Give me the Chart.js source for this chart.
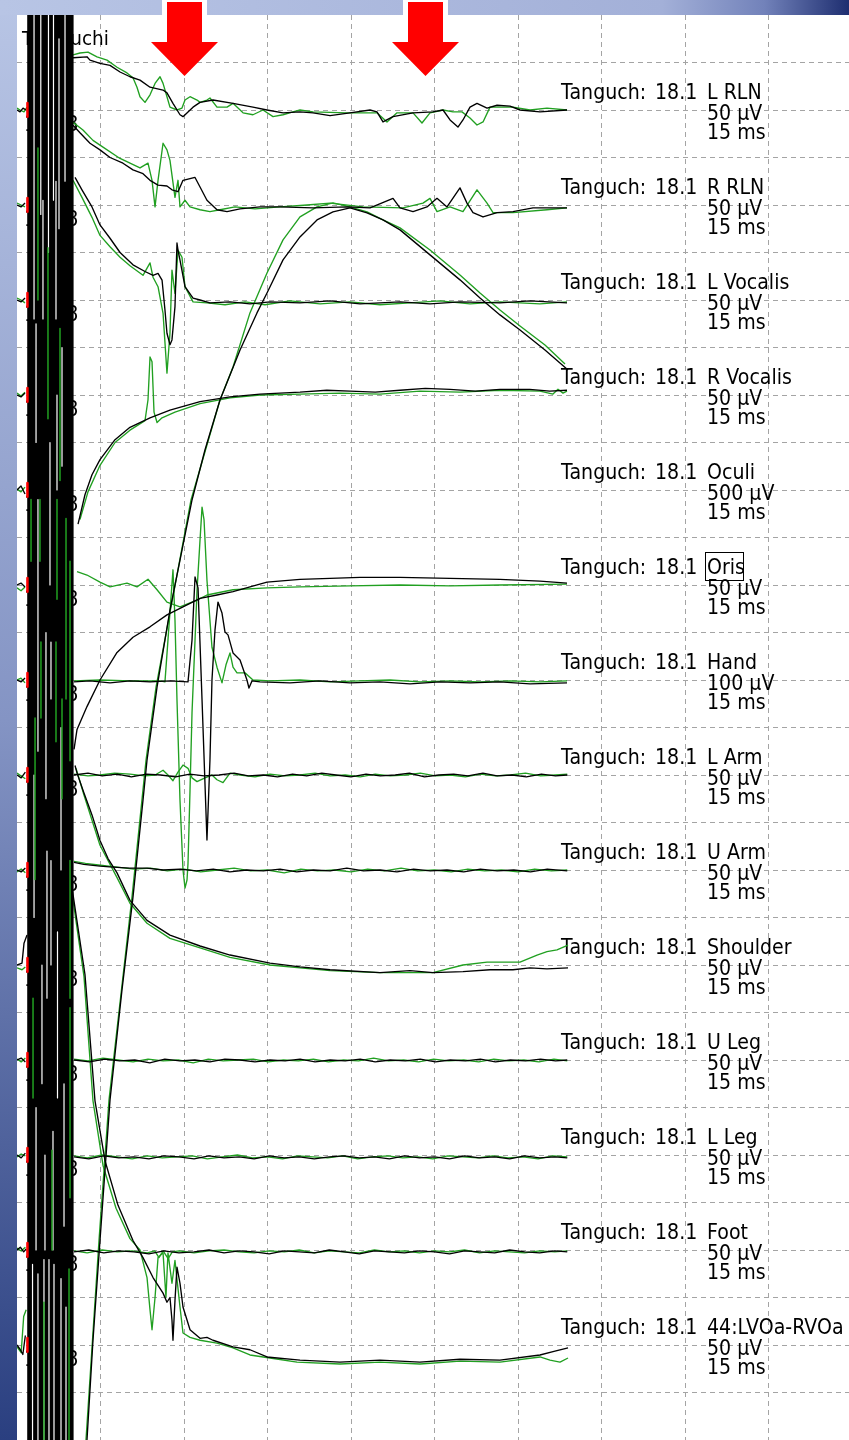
<!DOCTYPE html>
<html><head><meta charset="utf-8">
<script src="https://cdn.jsdelivr.net/npm/chart.js@4.4.1/dist/chart.umd.min.js"></script>
<style>html,body{margin:0;padding:0;background:#fff;overflow:hidden}canvas{display:block}</style>
</head><body>
<canvas id="c" width="849" height="1440"></canvas>
<script>
// ---------------- DATA ----------------
const channelNames = ['L RLN','R RLN','L Vocalis','R Vocalis','Oculi','Oris','Hand','L Arm','U Arm','Shoulder','U Leg','L Leg','Foot','44:LVOa-RVOa'];
const channelGains = [50,50,50,50,500,50,100,50,50,50,50,50,50,50]; // µV per division
const headerParts = ['Tanguch:', '18.1'];
const sweepLabel = '15 ms';
const patientLabel = 'Taniguchi';
const gainCode = '11.88';
const stimMarkerMs = 1.25;

// traces: [time ms, µV]  (null = gap across stimulus artifact)
const lRlnBlack = [[0,0],[0.36,-2],[0.72,2],[1.08,0],null,[6.71,55],[8.38,56],[8.74,52.5],[9.94,49],[11.14,47],[12.34,40],[13.53,35],[14.73,31.5],[15.93,24],[17.49,21],[17.96,18],[18.68,7],[19.52,-5],[19.88,-7],[20.48,-2],[21.08,3],[21.92,8],[23.47,10.5],[25.87,7],[28.26,3],[29.94,0],[31.86,-3],[33.89,-2],[35.45,-3],[37.49,-6],[39.88,-3],[42.28,0],[43.11,-2],[43.83,-12.6],[45.03,-7],[47.43,-3],[49.82,-2],[51.02,0],[51.86,-10.5],[52.81,-18],[53.41,-10.5],[54.25,3],[55.09,7],[56.29,2],[57.49,5],[59.04,4],[60.24,0],[62.63,-2],[65.87,0]];
const lRlnGreen = [[0,2],[0.36,0],[0.84,-2],[1.2,3],null,[6.71,58],[7.54,60],[8.5,61],[9.58,56],[10.78,52.5],[11.98,45],[13.17,39],[13.89,34],[14.37,24],[14.73,14],[15.33,8],[15.93,16],[16.53,28],[17.13,35],[17.49,28],[17.96,14],[18.32,3],[19.16,0],[19.76,2],[20.12,10.5],[20.72,14],[21.56,10.5],[21.92,8],[22.75,10.5],[23.11,12.6],[23.95,3],[25.15,3],[25.87,7],[27.07,-3],[28.26,-5],[29.46,0],[30.66,-7],[31.86,-5],[33.05,-2],[33.89,0],[35.45,-2],[39.52,-3],[43.11,-3],[44.31,-12.6],[45.51,-3],[47.43,-3],[48.5,-13.7],[49.46,-3],[51.02,0],[52.22,-2],[53.29,-2],[54.25,-8.4],[55.09,-15.8],[55.81,-12.6],[56.65,3],[59.4,3],[61.44,0],[63.47,2],[65.87,0]];

const rRlnBlack = [[0,0],[0.48,-2],[0.96,2],null,[6.71,84],[7.54,76],[8.74,65],[9.94,58],[11.14,50],[12.69,44],[13.89,37],[15.09,33],[15.93,26],[16.89,21],[17.96,20],[18.56,16],[19.28,14],[19.88,26],[21.32,29],[21.92,19],[22.75,5],[23.95,-5],[25.15,-7],[26.71,-4],[29.1,-2],[31.5,-2],[35.45,-3],[39.52,-2],[42.28,-3],[45.03,7],[45.87,-3],[47.43,-7],[49.1,-2],[50.3,7],[51.5,-2],[53.05,18],[53.89,2],[54.61,-8],[55.81,-12.6],[57.49,-8],[59.4,-7],[61.8,-3],[63.47,-3],[65.87,-3]];
const rRlnGreen = [[0,2],[0.48,0],[0.96,-2],null,[6.71,87],[7.9,79],[9.1,68],[9.94,63],[12.34,49],[14.73,39],[15.69,44],[16.17,26],[16.53,-2],[16.89,26],[17.49,65],[17.96,58],[18.32,47],[18.92,8],[19.28,26],[19.52,-2],[20.12,5],[20.72,-2],[21.92,-5],[23.11,-7],[24.31,-5],[26.11,-2],[28.5,-4],[31.5,-2],[34.73,0],[37.49,2],[41.44,-2],[46.23,-3],[48.62,2],[49.46,7],[50.3,-7],[51.86,-2],[53.41,-7],[55.09,16],[56.29,2],[57.01,-8],[59.4,-8],[63.47,-5],[65.87,-3]];

const lVocalisBlack = [[0,0],[0.48,-2],[0.96,2],null,[6.95,129],[7.78,116],[8.98,98],[9.94,79],[11.14,65],[12.34,50],[13.89,37],[15.33,30],[16.29,26],[16.89,28],[17.37,21],[17.72,-10.5],[17.96,-35],[18.32,-47],[18.56,-42],[18.92,-7],[19.16,60],[19.28,52.5],[19.52,42],[20.12,14],[21.08,2],[21.92,0],[23.11,-3],[25.51,-2],[27.9,-4],[30.3,-2],[33.89,-3],[37.49,-1],[41.08,-4],[45.87,-2],[49.46,-4],[53.05,-2],[57.84,-3],[61.44,-1],[65.87,-3]];
const lVocalisGreen = [[0,2],[0.48,0],[0.96,-3],null,[6.71,126],[7.78,108],[8.98,87],[9.94,68],[11.14,56],[12.34,45],[13.53,36],[15.09,26],[15.93,39],[16.29,24],[16.89,14],[17.49,-14],[17.96,-77],[18.32,-35],[18.56,31.5],[18.92,7],[19.28,52.5],[19.76,45],[20.12,14],[21.08,-2],[22.75,-3],[24.91,-5],[27.31,-2],[29.7,-5],[32.69,-1],[36.29,-4],[39.88,-2],[43.47,-5],[47.07,-3],[50.66,-1],[54.25,-4],[57.84,-2],[62.63,-4],[65.87,-2]];

const rVocalisBlack = [[0,0],[0.48,-2],[0.96,2],null,[7.31,-136],[8.14,-105],[8.98,-84],[9.94,-68],[11.74,-47],[13.53,-34],[15.93,-24],[18.32,-16],[21.92,-7],[25.51,-2],[29.1,1],[33.89,3],[37.1,5],[39.88,4],[42.9,3],[45.87,5],[48.9,7],[51.86,6],[54.9,4],[57.84,6],[61.4,6],[63.8,4],[65.87,5]];
const rVocalisGreen = [[0,2],[0.48,-1],[0.96,3],null,[7.54,-131],[8.5,-102],[9.94,-74],[11.74,-50],[13.53,-37],[15.33,-27],[15.69,-5],[15.93,40],[16.17,35],[16.41,-18],[16.77,-29],[17.37,-24],[18.92,-18],[21.92,-9],[25.51,-3],[29.1,0],[33.89,1],[38.68,2],[43.47,1],[48.26,4],[53.05,3],[57.84,5],[62.63,4],[64.19,1],[64.79,6],[65.39,2],[65.87,4]];

const oculiBlack = [[0,0],[0.48,42],[0.96,-42],null,[8.02,-10530],[8.38,-10000],[9.1,-8950],[9.94,-7900],[11.14,-6420],[12.57,-5265],[13.89,-4285],[15.09,-3265],[15.57,-2845],[16.77,-2075],[18.32,-1265],[19.76,-632],[20.96,-105],[22.51,421],[24.31,948],[26.71,1474],[28.74,1864],[29.94,2074],[31.86,2422],[33.89,2664],[35.93,2843],[37.84,2927],[39.88,2970],[41.92,2917],[43.83,2843],[45.87,2738],[49.46,2475],[53.05,2212],[55.45,2022],[57.84,1843],[60.24,1685],[63.23,1474],[65.99,1264]];
const oculiGreen = [[0,10],[0.48,-20],[0.96,30],null,[7.9,-10530],[8.26,-10000],[9.82,-7900],[11.02,-6420],[13.77,-4285],[15.45,-2845],[16.65,-2075],[20.84,-105],[24.31,948],[25.87,1295],[27.9,1864],[29.94,2285],[31.86,2633],[33.89,2875],[35.93,2980],[37.84,3022],[39.88,2980],[41.92,2927],[43.83,2843],[45.87,2759],[49.46,2527],[53.05,2264],[55.45,2074],[57.84,1895],[60.24,1727],[63.23,1527],[65.63,1327]];

const orisBlack = [[0,0],[0.48,2],[0.96,-2],null,[6.83,-173],[7.19,-152],[8.38,-128],[9.94,-100],[11.98,-71],[13.89,-55],[15.93,-44],[17.96,-31.5],[19.88,-23],[21.92,-14],[23.95,-10.5],[25.87,-7],[29.94,3],[33.89,6],[37.49,7],[41.08,8],[45.87,8],[51.86,7],[57.84,6],[62.63,4],[65.87,2]];
const orisGreen = [[0,-3],[0.48,-6],[0.96,-2],null,[7.19,14],[8.38,10.5],[9.94,3],[11.14,-2],[13.17,2],[14.37,-2],[15.69,6],[16.77,-5],[17.96,-18],[19.52,-23],[21.56,-16],[22.75,-10.5],[25.87,-5],[29.94,-3],[33.89,-2],[39.88,-1],[45.87,0],[51.86,-1],[57.84,0],[65.87,1]];

const handBlack = [[0,0],[0.48,-4],[0.96,4],null,[6.83,-4],[8.74,-2],[11.14,-6],[13.53,-2],[15.93,-4],[18.32,-2],[20.48,-4],[20.96,84],[21.32,217],[21.68,194],[22.16,-42],[22.75,-337],[23.11,-168],[23.35,0],[23.71,105],[24.07,164],[24.55,141],[24.91,101],[25.27,95],[25.87,57],[26.71,42],[27.54,0],[27.78,-17],[28.14,-2],[29.1,-4],[32.69,-6],[36.29,-2],[39.88,-6],[43.47,-4],[47.07,-8],[50.66,-4],[54.25,-6],[57.84,-4],[61.44,-8],[65.87,-6]];
const handGreen = [[0,0],[0.48,4],[0.96,-6],null,[6.83,-2],[9.94,0],[13.53,-2],[17.13,-2],[17.72,-4],[18.08,84],[18.68,232],[18.92,126],[19.16,-42],[19.52,-253],[19.88,-400],[20.12,-438],[20.36,-421],[20.48,-386],[20.72,-232],[20.96,-69],[21.32,84],[21.56,189],[21.92,295],[22.16,364],[22.4,337],[22.75,210],[23.35,69],[23.95,27],[24.55,-6],[25.03,32],[25.51,57],[25.87,27],[26.35,15],[27.31,15],[28.26,0],[30.3,-2],[33.89,0],[37.49,-4],[41.08,-2],[44.67,0],[48.26,-4],[51.86,-2],[55.45,-4],[59.04,-2],[62.63,-4],[65.87,-2]];

const lArmBlack = [[0,0],[0.5,-3],[1.0,3],null,[6.8,0],[8.5,2],[10.2,-1],[12.0,1],[13.7,-2],[15.5,1],[17.2,0],[19.0,-2],[20.7,1],[22.4,-1],[24.2,0],[26.0,2],[27.7,-1],[29.5,0],[31.2,-2],[33.0,1],[34.7,-1],[36.5,2],[38.2,0],[40.0,-2],[41.8,1],[43.5,-1],[45.3,0],[47.0,2],[48.8,-2],[50.5,0],[52.3,1],[54.0,-1],[55.8,2],[57.5,-1],[59.3,0],[61.0,-2],[62.8,1],[64.5,-1],[65.9,0]];
const lArmGreen = [[0,2],[0.5,-1],[1.0,-4],null,[6.83,1],[8.5,-1],[9.94,0],[11.7,2],[13.53,1],[15.3,-1],[16.53,0],[17.49,5],[18.08,0],[18.68,-6],[19.28,3],[19.88,10.5],[20.48,7],[20.96,-3],[21.56,-7],[22.51,-3],[23.35,0],[23.95,-5],[24.67,-8],[25.51,2],[26.71,0],[28.5,-2],[30.3,1],[32.1,-1],[33.9,0],[35.7,2],[37.5,-1],[39.3,0],[41.1,-2],[42.9,1],[44.7,-1],[46.5,0],[48.3,2],[50.1,-1],[51.9,0],[53.7,-2],[55.5,1],[57.3,-1],[59.1,0],[60.9,2],[62.7,-1],[64.5,0],[65.9,1]];

const uArmBlack = [[0,0],[0.5,-2],[1.0,2],null,[6.83,8],[8.0,6],[9.94,4],[11.5,3],[13.5,2],[15.57,2],[17.5,0],[19.52,1],[21.5,-1],[23.5,1],[25.5,-2],[27.5,0],[29.5,-1],[31.5,1],[33.5,-2],[35.5,0],[37.5,-1],[39.5,2],[41.5,-1],[43.5,0],[45.5,-2],[47.5,1],[49.5,-1],[51.5,0],[53.5,-2],[55.5,1],[57.5,-1],[59.5,0],[61.5,-2],[63.5,1],[65.9,-1]];
const uArmGreen = [[0,-2],[0.5,1],[1.0,-3],null,[6.83,9],[8.2,7],[10,5],[12,3],[14,1],[16,2],[18,-1],[20,1],[22,-2],[24,0],[26,2],[28,-1],[30,0],[32,-3],[34,1],[36,-1],[38,0],[40,-2],[42,1],[44,-1],[46,2],[48,-1],[50,0],[52,-2],[54,1],[56,-1],[58,0],[60,-2],[62,1],[64,-1],[65.9,0]];

const shoulderBlack = [[0,0],[0.6,2],[0.84,23],[1.2,31.5],null,[6.95,210],[7.19,202],[8.02,181],[8.98,158],[9.94,131],[10.9,112],[11.98,97],[13.53,68],[15.57,47],[18.32,31.5],[21.92,20],[25.51,10.5],[30.3,2],[33.89,-2],[37.49,-5],[43.47,-8],[47.07,-6],[49.82,-8],[53.41,-7],[56.65,-5],[59.4,-5],[61.44,-3],[63.47,-4],[65.99,-3]];
const shoulderGreen = [[0,-3],[0.6,-5],[1.0,-2],null,[7.07,207],[8.02,179],[9.94,126],[11.98,92],[13.53,65],[15.57,44],[18.32,28],[21.92,18],[25.51,8],[30.3,0],[33.89,-3],[37.49,-6],[43.47,-8],[49.82,-8],[53.41,0],[56.29,3],[60.24,3],[62.28,10.5],[63.47,14],[64.67,16],[65.99,21]];

const uLegBlack = [[0,0],[0.5,2],[1.0,-2],null,[6.83,0],[8.7,-2],[10.5,1],[12.3,-1],[14.1,0],[15.9,-3],[17.7,1],[19.5,-1],[21.3,0],[23.1,-2],[24.9,1],[26.7,0],[28.5,-2],[30.3,0],[32.1,-1],[33.9,1],[35.7,-2],[37.5,0],[39.3,-1],[41.1,1],[42.9,-2],[44.7,0],[46.5,-1],[48.3,1],[50.1,-2],[51.9,0],[53.7,-1],[55.5,1],[57.3,-2],[59.1,0],[60.9,-1],[62.7,1],[64.5,-1],[65.9,0]];
const uLegGreen = [[0,1],[0.5,-2],[1.0,2],null,[6.83,1],[8.5,-1],[10.3,2],[12.1,0],[13.9,-2],[15.7,1],[17.5,-1],[19.3,0],[21.1,-3],[22.9,1],[24.7,-1],[26.5,0],[28.3,1],[30.1,-2],[31.9,0],[33.7,-1],[35.5,1],[37.3,-2],[39.1,0],[40.9,-1],[42.7,2],[44.5,-1],[46.3,0],[48.1,-2],[49.9,1],[51.7,-1],[53.5,0],[55.3,-2],[57.1,1],[58.9,-1],[60.7,0],[62.5,-2],[64.3,1],[65.9,-1]];

const lLegBlack = [[0,0],[0.5,-3],[1.0,2],null,[6.83,-2],[8.6,-4],[10.4,-1],[12.2,-3],[14.0,-2],[15.8,-4],[17.6,-1],[19.4,-2],[21.2,-4],[23.0,-1],[24.8,-3],[26.6,-2],[28.4,-4],[30.2,-1],[32.0,-3],[33.8,-2],[35.6,-4],[37.4,-2],[39.2,-1],[41.0,-3],[42.8,-2],[44.6,-4],[46.4,-1],[48.2,-3],[50.0,-2],[51.8,-4],[53.6,-1],[55.4,-3],[57.2,-2],[59.0,-4],[60.8,-1],[62.6,-3],[64.4,-2],[65.9,-3]];
const lLegGreen = [[0,-2],[0.5,1],[1.0,-1],null,[6.83,-1],[8.4,-3],[10.2,0],[12.0,-2],[13.8,-4],[15.6,-1],[17.4,-3],[19.2,-2],[21.0,-1],[22.8,-4],[24.6,-2],[26.4,0],[28.2,-3],[30.0,-2],[31.8,-4],[33.6,-1],[35.4,-2],[37.2,-3],[39.0,-1],[40.8,-4],[42.6,-2],[44.4,-1],[46.2,-3],[48.0,-2],[49.8,-4],[51.6,-1],[53.4,-2],[55.2,-3],[57.0,-1],[58.8,-3],[60.6,-2],[62.4,-4],[64.2,-1],[65.9,-2]];

const footBlack = [[0,0],[0.4,3],[0.8,-2],[1.1,1],null,[6.83,-2],[8.6,0],[10.4,-3],[12.2,-1],[14.0,-2],[15.8,-4],[17.6,-1],[19.4,-3],[21.2,-2],[23.0,0],[24.8,-3],[26.6,-1],[28.4,-2],[30.2,-4],[32.0,-1],[33.8,-2],[35.6,-3],[37.4,0],[39.2,-2],[41.0,-4],[42.8,-1],[44.6,-2],[46.4,-3],[48.2,-1],[50.0,-2],[51.8,-4],[53.6,-1],[55.4,-2],[57.2,-3],[59.0,0],[60.8,-2],[62.6,-3],[64.4,-1],[65.9,-2]];
const footGreen = [[0,2],[0.5,-1],[1.0,3],null,[6.83,-1],[8.4,-3],[10.2,0],[12.0,-2],[13.8,-1],[15.6,-3],[16.5,-1],[17.0,-8],[17.5,-1],[18.1,-9],[18.6,-2],[19.4,-1],[21.2,-3],[23.0,-1],[24.8,0],[26.6,-2],[28.4,-3],[30.2,-1],[32.0,-2],[33.8,0],[35.6,-3],[37.4,-1],[39.2,-2],[41.0,-3],[42.8,0],[44.6,-2],[46.4,-1],[48.2,-3],[50.0,-1],[51.8,-2],[53.6,0],[55.4,-3],[57.2,-1],[59.0,-2],[60.8,-3],[62.6,-1],[64.4,-2],[65.9,-1]];

const lvoaBlack = [[0,0],[0.4,-5],[0.7,-10],[1.0,10],null,[6.47,488],[6.71,474],[8.14,390],[9.34,257],[10.54,194],[12.1,147],[13.89,110],[15.09,92],[16.29,71],[17.49,54.6],[17.96,45],[18.32,50],[18.56,26],[18.68,5],[18.92,47],[19.16,82],[19.52,65],[19.88,40],[20.72,16],[21.92,7],[22.75,8],[23.47,5],[25.87,-2],[27.9,-5],[29.94,-12.6],[33.89,-16],[38.68,-18],[43.47,-16],[48.26,-18],[53.05,-15],[57.84,-16],[62.63,-10.5],[64.19,-7],[65.99,-3]];
const lvoaGreen = [[0,-2],[0.5,-8],[0.8,30],[1.1,37],null,[6.47,483],[8.02,388],[9.1,257],[10.3,189],[11.86,144],[13.53,112],[14.73,100],[15.57,71],[15.93,37],[16.17,16],[16.53,50],[16.89,92],[17.49,97],[17.84,50],[18.08,97],[18.56,65],[18.92,89],[19.52,40],[19.88,12.6],[20.72,8],[21.92,5],[23.95,2],[25.87,-3],[27.9,-10.5],[30.3,-13.7],[33.53,-18],[38.68,-20],[43.47,-18],[48.26,-20],[53.05,-17],[57.84,-18],[62.63,-12.6],[63.83,-16],[65.03,-18],[65.99,-13.7]];

const channelTraces = [
  [lRlnBlack, lRlnGreen], [rRlnBlack, rRlnGreen], [lVocalisBlack, lVocalisGreen], [rVocalisBlack, rVocalisGreen],
  [oculiBlack, oculiGreen], [orisBlack, orisGreen], [handBlack, handGreen], [lArmBlack, lArmGreen],
  [uArmBlack, uArmGreen], [shoulderBlack, shoulderGreen], [uLegBlack, uLegGreen], [lLegBlack, lLegGreen],
  [footBlack, footGreen], [lvoaBlack, lvoaGreen]
];

// stimulus artifact (saturated): stroke times in ms; segments are [ms, fromDiv, toDiv]
const artifactStrokesMs = [1.45,1.85,2.25,2.65,3.05,3.45,3.85,4.25,4.65,5.05,5.45,5.85,6.25,6.55];
const artifactGapSegments = [
  [2.04,0,6.4],[2.85,0,4.2],[3.77,0,5.0],[4.37,0,3.9],[5.03,0.5,4.5],[5.75,0,3.5],[4.67,3.5,6.4],[3.11,3.9,6.4],
  [2.51,10.2,15.5],[3.47,13,16.5],[4.79,8,10],[2.28,6.5,9],[5.39,7,9.5],[3.95,9,12],
  [3.59,17.6,20.7],[4.07,13.2,14.4],[4.07,17.8,20.0],[4.85,19.3,22.8],[5.27,15,18],[2.04,16,19],[2.99,20,22.5],
  [2.28,23,26],[4.31,23.5,26],[5.63,22.5,25.5],[3.35,24,26],
  [1.86,26.3,30],[2.51,26.5,30],[3.23,26.2,30],[3.83,26.2,30],[4.43,26.3,30],[5.27,26.6,30],[5.87,27.2,30]];
const artifactGreenStreaks = [[1.68,10.2,11.5],[2.75,10.2,11.5],[4.79,10.2,12.3],[5.87,10.6,14.4],[6.35,11.5,15.7],[2.16,14.8,18.2],[2.87,13.2,14.8],[4.67,13.2,15.3],[5.39,14.4,16.5],[6.35,17.8,20.7],[3.23,27.1,30],[6.23,26.4,30],[2.51,2.8,6.0],[3.71,4.9,8.5],[5.15,6.6,9.8],[6.35,20.9,24.9],[1.92,20.7,22.8],[4.19,23.9,26.0]];

// ---------------- BUILD ----------------
const BLACK = '#000000', GREEN = '#21a021', GRID = '#a4a4a4';
const rowOf = i => 2 + 2 * i;
function toPoints(arr, i) {
  return arr.map(p => p === null ? {x: 4, y: null} : {x: p[0], y: rowOf(i) - p[1] / channelGains[i]});
}
function segPoints(list) {
  const pts = [];
  list.forEach(s => { pts.push({x: s[0], y: s[1]}, {x: s[0], y: s[2]}, {x: s[0], y: null}); });
  return pts;
}
const datasets = [];
channelTraces.forEach((pair, i) => {
  datasets.push({data: toPoints(pair[1], i), borderColor: GREEN, borderWidth: 1.35, order: 6});
  datasets.push({data: toPoints(pair[0], i), borderColor: BLACK, borderWidth: 1.35, order: 5});
});
datasets.push({data: segPoints(artifactStrokesMs.map(t => [t, -1, 31])), borderColor: BLACK, borderWidth: 3.8, order: 4});
datasets.push({data: segPoints(artifactGapSegments), borderColor: '#ffffff', borderWidth: 1.2, order: 3});
datasets.push({data: segPoints(artifactGreenStreaks), borderColor: GREEN, borderWidth: 1.5, order: 2});
datasets.push({data: segPoints(channelNames.map((n, i) => [stimMarkerMs, rowOf(i) - 0.15, rowOf(i) + 0.14])), borderColor: '#ff0000', borderWidth: 2.5, order: 1});
datasets.forEach(d => { d.pointRadius = 0; d.tension = 0; d.spanGaps = false; d.clip = 0; d.fill = false; d.borderJoinStyle = 'round'; });

function stretchText(ctx, txt, x, y) {
  ctx.save(); ctx.translate(x, y); ctx.scale(1, 1.08); ctx.fillText(txt, 0, 0); ctx.restore();
}

const decor = {
  id: 'decor',
  beforeDraw(chart) {
    const ctx = chart.ctx, W = chart.width, H = chart.height, a = chart.chartArea;
    ctx.save();
    const lg = ctx.createLinearGradient(0, 0, 0, H);
    lg.addColorStop(0, '#b8c5e5'); lg.addColorStop(0.5, '#8494c4'); lg.addColorStop(1, '#2a3f80');
    ctx.fillStyle = lg; ctx.fillRect(0, 0, a.left, H);
    const tg = ctx.createLinearGradient(0, 0, W, 0);
    tg.addColorStop(0, '#b8c5e5'); tg.addColorStop(0.78, '#a3b0d8'); tg.addColorStop(0.9, '#7282ba'); tg.addColorStop(1, '#1e2e70');
    ctx.fillStyle = tg; ctx.fillRect(0, 0, W, a.top);
    ctx.fillStyle = '#ffffff'; ctx.fillRect(a.left, a.top, a.right - a.left, a.bottom - a.top);
    ctx.restore();
  },
  beforeDatasetsDraw(chart) {
    const ctx = chart.ctx, ys = chart.scales.y;
    ctx.save();
    ctx.fillStyle = '#000';
    ctx.textBaseline = 'alphabetic';
    ctx.font = '18.5px "DejaVu Sans"';
    stretchText(ctx, patientLabel, 22, 45);
    ctx.font = '19px "DejaVu Sans"';
    channelNames.forEach((name, i) => {
      const B = ys.getPixelForValue(rowOf(i));
      stretchText(ctx, headerParts[0], 561, B - 11);
      stretchText(ctx, headerParts[1], 655, B - 11);
      stretchText(ctx, name, 707, B - 11);
      stretchText(ctx, channelGains[i] + ' µV', 707, B + 10);
      stretchText(ctx, sweepLabel, 707, B + 29);
      stretchText(ctx, gainCode, 24, B + 21);
      if (name === 'Oris') { ctx.lineWidth = 1; ctx.strokeStyle = '#000'; ctx.strokeRect(705.5, B - 32.5, 38, 28); }
    });
    ctx.restore();
  },
  afterDraw(chart) {
    const ctx = chart.ctx;
    ctx.save();
    [184.5, 425.5].forEach(cx => {
      ctx.fillStyle = '#ffffff'; ctx.fillRect(cx - 22.5, 0, 45, 15);
      ctx.fillStyle = '#ff0000';
      ctx.beginPath();
      ctx.moveTo(cx - 17.5, 2); ctx.lineTo(cx + 17.5, 2); ctx.lineTo(cx + 17.5, 42); ctx.lineTo(cx + 33.5, 42);
      ctx.lineTo(cx, 76); ctx.lineTo(cx - 33.5, 42); ctx.lineTo(cx - 17.5, 42); ctx.closePath(); ctx.fill();
    });
    ctx.restore();
  }
};

new Chart(document.getElementById('c'), {
  type: 'line',
  data: {datasets},
  options: {
    responsive: false, animation: false, devicePixelRatio: 1,
    layout: {padding: {left: 17, top: 15, right: 0, bottom: 0}},
    plugins: {legend: {display: false}, tooltip: {enabled: false}},
    scales: {
      x: {type: 'linear', min: 0, max: 99.64,
          ticks: {display: false, stepSize: 10},
          grid: {drawTicks: false, lineWidth: 1, color: c => { const v = c.tick ? c.tick.value : 0; return (v > 1 && v < 99 && Math.abs(v % 10) < 1e-6) ? GRID : 'rgba(0,0,0,0)'; }},
          border: {display: false, dash: [5, 4]}},
      y: {type: 'linear', reverse: true, min: 0, max: 30,
          ticks: {display: false, stepSize: 1},
          grid: {drawTicks: false, lineWidth: 1, color: c => { const v = c.tick ? c.tick.value : 0; return (v > 0.5 && v < 29.9 && Math.abs(v - Math.round(v)) < 1e-6) ? GRID : 'rgba(0,0,0,0)'; }},
          border: {display: false, dash: [5, 4]}}
    }
  },
  plugins: [decor]
});
</script></body></html>
